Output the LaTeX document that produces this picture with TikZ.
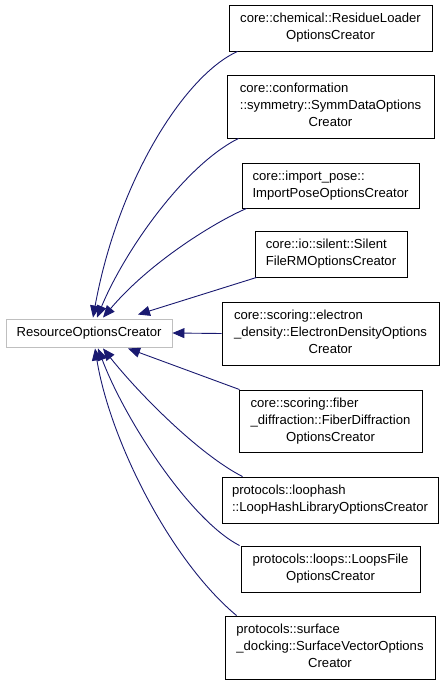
\documentclass[tikz,border=0pt]{standalone}
\usepackage{fontspec}
\setmainfont{Liberation Sans}
\usetikzlibrary{arrows.meta}
\definecolor{edgeblue}{HTML}{191970}
\definecolor{rootgray}{HTML}{BFBFBF}
\newcommand{\boxtext}[1]{\begin{tabular}{@{}l@{}}#1\end{tabular}}
\newcommand{\lastline}[1]{\multicolumn{1}{@{}c@{}}{#1}}
\begin{document}
\begin{tikzpicture}[x=1pt,y=-1pt,
  cls/.style={draw=black, line width=0.9pt, fill=white, inner sep=0pt,
    font=\fontsize{13.1}{17}\selectfont, align=center},
  rootbox/.style={draw=rootgray, line width=0.9pt, fill=white, inner sep=0pt,
    font=\fontsize{13.1}{17}\selectfont},
  edge/.style={draw=edgeblue, line width=0.9pt,
    -{Triangle[length=12pt,width=10pt]}, edgeblue}
]
\useasboundingbox (0,0) rectangle (445,685);

\node[rootbox, minimum width=166pt, minimum height=28pt] (root) at (89,333) {ResourceOptionsCreator};

\node[cls, minimum width=203pt, minimum height=46pt] (n1) at (330.5,28)
  {\boxtext{core::chemical::ResidueLoader\\ \lastline{OptionsCreator}}};
\node[cls, minimum width=207pt, minimum height=63pt] (n2) at (330.5,106.5)
  {\boxtext{core::conformation\\ ::symmetry::SymmDataOptions\\ \lastline{Creator}}};
\node[cls, minimum width=177pt, minimum height=45pt] (n3) at (330.5,185.5)
  {\boxtext{core::import\_pose::\\ \lastline{ImportPoseOptionsCreator}}};
\node[cls, minimum width=152pt, minimum height=46pt] (n4) at (331,254)
  {\boxtext{core::io::silent::Silent\\ \lastline{FileRMOptionsCreator}}};
\node[cls, minimum width=217pt, minimum height=63pt] (n5) at (330.5,333.5)
  {\boxtext{core::scoring::electron\\ \_density::ElectronDensityOptions\\ \lastline{Creator}}};
\node[cls, minimum width=183pt, minimum height=62pt] (n6) at (330.5,421)
  {\boxtext{core::scoring::fiber\\ \_diffraction::FiberDiffraction\\ \lastline{OptionsCreator}}};
\node[cls, minimum width=216pt, minimum height=46pt] (n7) at (330,500)
  {\boxtext{protocols::loophash\\ \lastline{::LoopHashLibraryOptionsCreator}}};
\node[cls, minimum width=179pt, minimum height=46pt] (n8) at (330.5,569)
  {\boxtext{protocols::loops::LoopsFile\\ \lastline{OptionsCreator}}};
\node[cls, minimum width=210pt, minimum height=63pt] (n9) at (330,647.5)
  {\boxtext{protocols::surface\\ \_docking::SurfaceVectorOptions\\ \lastline{Creator}}};

% edges (from derived class to base class)
\draw[edge] ([xshift=9pt]n1.south west) .. controls (185,75) and (118,180) .. ([xshift=4pt,yshift=1pt]root.north);
\draw[edge] ([xshift=12pt]n2.south west) .. controls (185,165) and (125,250) .. ([xshift=8pt,yshift=1pt]root.north);
\draw[edge] ([xshift=5pt]n3.south west) .. controls (215,222) and (150,262) .. ([xshift=14pt,yshift=1pt]root.north);
\draw[edge] ([xshift=2pt]n4.south west) -- ([xshift=49pt,yshift=4pt]root.north);
\draw[edge] (n5.west) -- (root.east);
\draw[edge] ([xshift=1pt]n6.north west) -- ([xshift=39pt,yshift=-1pt]root.south);
\draw[edge] ([xshift=21pt]n7.north west) .. controls (200,455) and (140,395) .. ([xshift=14pt,yshift=-1pt]root.south);
\draw[edge] ([xshift=-1pt]n8.north west) .. controls (190,520) and (125,420) .. ([xshift=9pt,yshift=-1pt]root.south);
\draw[edge] ([xshift=12pt]n9.north west) .. controls (170,560) and (110,440) .. ([xshift=6pt,yshift=-1pt]root.south);
\end{tikzpicture}
\end{document}
